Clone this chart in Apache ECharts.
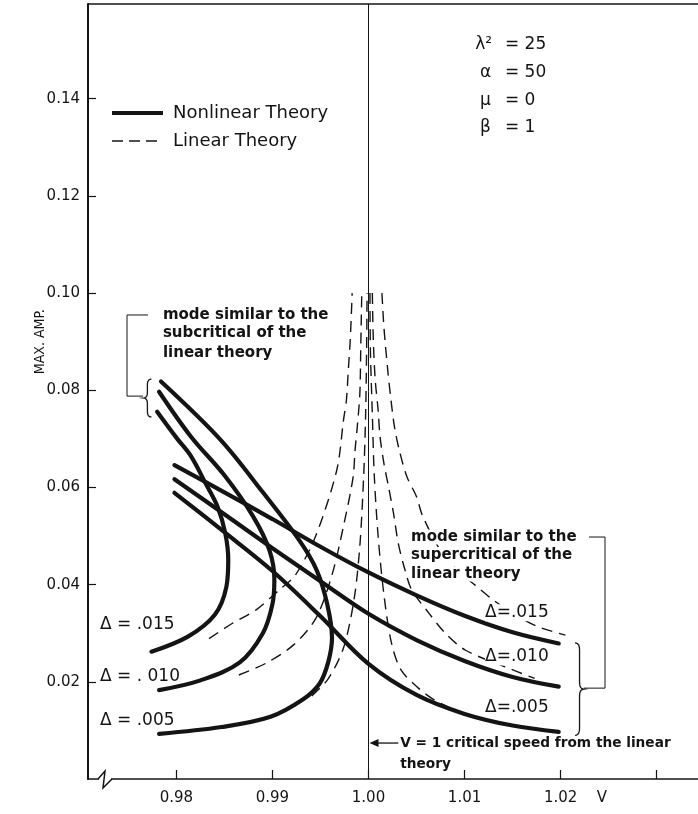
<!DOCTYPE html>
<html><head><meta charset="utf-8">
<script src="https://cdn.jsdelivr.net/npm/echarts@6/dist/echarts.min.js"></script>
<style>html,body{margin:0;padding:0;background:#fff}#c{width:698px;height:814px}</style>
</head><body><div id="c"></div>
<script>
// ---- axes ----
const xTicks = [0.98, 0.99, 1.00, 1.01, 1.02, 1.03];
const xLabelValues = [0.98, 0.99, 1.00, 1.01, 1.02];
const yTicks = [0.02, 0.04, 0.06, 0.08, 0.10, 0.12, 0.14];

// ---- Nonlinear theory: fold branch (subcritical-like mode), [V, max amp] ----
const nlFold015 = [[0.9780,0.0756],[0.9801,0.0700],[0.9815,0.0665],[0.9830,0.0610],[0.9843,0.0560],[0.9851,0.0505],[0.9854,0.0451],[0.9852,0.0395],[0.9840,0.0338],[0.9812,0.0293],[0.9774,0.0262]];
const nlFold010 = [[0.9782,0.0797],[0.9815,0.0705],[0.9850,0.0625],[0.9880,0.0540],[0.9897,0.0470],[0.9902,0.0410],[0.9900,0.0360],[0.9890,0.0300],[0.9866,0.0240],[0.9825,0.0203],[0.9782,0.0183]];
const nlFold005 = [[0.9784,0.0818],[0.9846,0.0698],[0.9890,0.0590],[0.9928,0.0491],[0.9946,0.0430],[0.9957,0.0360],[0.9962,0.0290],[0.9958,0.0240],[0.9949,0.0196],[0.9932,0.0164],[0.9898,0.0128],[0.9847,0.0107],[0.9782,0.0093]];

// ---- Nonlinear theory: supercritical-like branch ----
const nlSup015 = [[0.9798,0.0646],[0.9850,0.0590],[0.9900,0.0535],[0.9950,0.0478],[1.0000,0.0425],[1.0050,0.0378],[1.0100,0.0336],[1.0150,0.0302],[1.0198,0.0279]];
const nlSup010 = [[0.9798,0.0617],[0.9850,0.0545],[0.9900,0.0475],[0.9950,0.0407],[1.0000,0.0340],[1.0050,0.0286],[1.0100,0.0243],[1.0150,0.0210],[1.0198,0.0190]];
const nlSup005 = [[0.9798,0.0589],[0.9850,0.0508],[0.9900,0.0428],[0.9950,0.0335],[1.0000,0.0237],[1.0050,0.0173],[1.0100,0.0134],[1.0150,0.0110],[1.0198,0.0097]];

// ---- Linear theory (dashed) ----
const linLeft015 = [[0.9834,0.0289],[0.9858,0.0320],[0.9883,0.0348],[0.9907,0.0389],[0.9924,0.0420],[0.9945,0.0500],[0.9967,0.0636],[0.9974,0.0739],[0.9977,0.0780],[0.9979,0.0842],[0.9981,0.0904],[0.9983,0.1000]];
const linLeft010 = [[0.9865,0.0214],[0.9893,0.0238],[0.9922,0.0276],[0.9945,0.0330],[0.9962,0.0420],[0.9975,0.0530],[0.9984,0.0622],[0.9986,0.0677],[0.9988,0.0718],[0.9991,0.0794],[0.9992,0.0897],[0.9993,0.1000]];
const linLeft005 = [[0.9941,0.0171],[0.9958,0.0206],[0.9974,0.0270],[0.9985,0.0370],[0.9991,0.0480],[0.9995,0.0625],[0.9997,0.0750],[0.9998,0.0880],[0.99985,0.1000]];
const linRight015 = [[1.0014,0.1000],[1.0016,0.0931],[1.0020,0.0842],[1.0023,0.0787],[1.0027,0.0725],[1.0032,0.0677],[1.0040,0.0622],[1.0050,0.0581],[1.0056,0.0543],[1.0075,0.0470],[1.0095,0.0425],[1.0111,0.0399],[1.0130,0.0368],[1.0155,0.0335],[1.0177,0.0313],[1.0205,0.0296]];
const linRight010 = [[1.0004,0.1000],[1.0005,0.0904],[1.0007,0.0821],[1.0010,0.0760],[1.0012,0.0705],[1.0016,0.0650],[1.0021,0.0600],[1.0026,0.0547],[1.0031,0.0485],[1.0038,0.0430],[1.0045,0.0389],[1.0063,0.0341],[1.0080,0.0300],[1.0101,0.0265],[1.0142,0.0231],[1.0173,0.0207]];
const linRight005 = [[1.00015,0.1000],[1.0002,0.0880],[1.0004,0.0750],[1.0006,0.0625],[1.0010,0.0500],[1.0016,0.0380],[1.0024,0.0279],[1.0034,0.0224],[1.0052,0.0187],[1.0069,0.0162],[1.0083,0.0148]];

const criticalSpeed = 1.00;

const BLACK = '#141414';
const FONT = 'DejaVu Sans';

const chart = echarts.init(document.getElementById('c'), null, {renderer: 'canvas'});

function nl(data) {
  return {name: 'Nonlinear Theory', type: 'line', data: data, smooth: 0.35, symbol: 'none',
    lineStyle: {color: BLACK, width: 4.2, cap: 'round'}, itemStyle: {color: BLACK}, z: 4, silent: true};
}
function lin(data) {
  return {name: 'Linear Theory', type: 'line', data: data, smooth: 0.3, symbol: 'none',
    lineStyle: {color: BLACK, width: 1.4, type: [11, 7]}, itemStyle: {color: BLACK}, z: 3, silent: true};
}

const series = [
  nl(nlFold015), nl(nlFold010), nl(nlFold005),
  nl(nlSup015), nl(nlSup010), nl(nlSup005),
  lin(linLeft015), lin(linLeft010), lin(linLeft005),
  lin(linRight015), lin(linRight010), lin(linRight005)
];
series[0].markLine = {
  silent: true, symbol: 'none', label: {show: false},
  lineStyle: {color: BLACK, width: 1, type: 'solid'},
  data: [{xAxis: criticalSpeed}]
};

chart.setOption({
  animation: false,
  backgroundColor: '#fff',
  grid: {left: 88, right: 0, top: 4, bottom: 35, containLabel: false},
  xAxis: {
    type: 'value', min: 0.9708, max: 1.0343,
    axisLine: {lineStyle: {color: BLACK, width: 1.5}},
    axisTick: {show: true, inside: true, length: 9, customValues: xTicks, lineStyle: {color: BLACK, width: 1.2}},
    axisLabel: {customValues: xLabelValues, formatter: v => v.toFixed(2), margin: 12,
      fontFamily: FONT, fontSize: 15, color: BLACK},
    splitLine: {show: false}
  },
  yAxis: {
    type: 'value', min: 0, max: 0.1595,
    axisLine: {show: true, lineStyle: {color: BLACK, width: 2}},
    axisTick: {show: true, inside: true, length: 8, customValues: yTicks, lineStyle: {color: BLACK, width: 1.2}},
    axisLabel: {customValues: yTicks, formatter: v => v.toFixed(2), margin: 8,
      fontFamily: FONT, fontSize: 15, color: BLACK},
    splitLine: {show: false}
  },
  series: series
});

function P(v, a) { return chart.convertToPixel({xAxisIndex: 0, yAxisIndex: 0}, [v, a]); }
function txt(v, a, s, size, weight, align, style) {
  const p = P(v, a);
  return {type: 'text', x: p[0], y: p[1], z: 10, silent: true,
    style: Object.assign({text: s, fill: BLACK, font: (weight || 'normal') + ' ' + size + 'px ' + FONT,
      textAlign: align || 'left', textVerticalAlign: 'middle'}, style || {})};
}
function seg(pts, w) {
  return {type: 'polyline', z: 10, silent: true, shape: {points: pts.map(q => P(q[0], q[1]))},
    style: {stroke: BLACK, lineWidth: w || 1, fill: null}};
}
function quad(p0, p1, p2, n) {
  const out = [];
  for (let i = 0; i <= n; i++) {
    const t = i / n, u = 1 - t;
    out.push([u * u * p0[0] + 2 * u * t * p1[0] + t * t * p2[0], u * u * p0[1] + 2 * u * t * p1[1] + t * t * p2[1]]);
  }
  return out;
}
// curly brace: flat side at v, dir = +1 tip to the right, -1 tip to the left
function brace(v, aTop, aBot, w, dir) {
  const p1 = P(v, aTop), p2 = P(v, aBot);
  const x0 = p1[0], yT = p1[1], yB = p2[1], ym = (yT + yB) / 2, h = yB - yT;
  const xm = x0 + dir * w / 2, xt = x0 + dir * w, r = Math.min(7, h * 0.15);
  let pts = [];
  pts = pts.concat(quad([x0, yT], [xm, yT], [xm, yT + r], 6));
  pts = pts.concat(quad([xm, ym - r], [xm, ym], [xt, ym], 6));
  pts = pts.concat(quad([xt, ym], [xm, ym], [xm, ym + r], 6));
  pts = pts.concat(quad([xm, yB - r], [xm, yB], [x0, yB], 6));
  return {type: 'polyline', z: 10, silent: true, shape: {points: pts},
    style: {stroke: BLACK, lineWidth: 1.3, fill: null}};
}

const g = [];
// legend (drawn by hand)
{
  const lx = 112, tx = 173;
  g.push({type: 'line', z: 10, silent: true, shape: {x1: lx, y1: 113, x2: lx + 51, y2: 113}, style: {stroke: BLACK, lineWidth: 4}});
  g.push({type: 'text', x: tx, y: 113, z: 10, silent: true, style: {text: 'Nonlinear Theory', fill: BLACK, font: '18px ' + FONT, textVerticalAlign: 'middle'}});
  g.push({type: 'line', z: 10, silent: true, shape: {x1: lx, y1: 141, x2: lx + 51, y2: 141}, style: {stroke: BLACK, lineWidth: 1.4, lineDash: [11, 6]}});
  g.push({type: 'text', x: tx, y: 141, z: 10, silent: true, style: {text: 'Linear Theory', fill: BLACK, font: '18px ' + FONT, textVerticalAlign: 'middle'}});
}
// parameters
[['λ²', '= 25', 1.0111, 0.1511], ['α', '= 50', 1.0116, 0.1453], ['μ', '= 0', 1.0116, 0.1397], ['β', '= 1', 1.0116, 0.1340]]
  .forEach(r => { g.push(txt(r[2], r[3], r[0], 17)); g.push(txt(1.0142, r[3], r[1], 17)); });
// subcritical annotation
['mode similar to the', 'subcritical of the', 'linear theory'].forEach((s, i) =>
  g.push(txt(0.9786, [0.0955, 0.0918, 0.0877][i], s, 15, 'bold')));
g.push(seg([[0.97705, 0.0955], [0.97486, 0.0955], [0.97486, 0.0788], [0.97653, 0.0788]], 1));
g.push(brace(0.97740, 0.0823, 0.0745, 8, -1));
// supercritical annotation
['mode similar to the', 'supercritical of the', 'linear theory'].forEach((s, i) =>
  g.push(txt(1.00443, [0.0498, 0.0461, 0.0422][i], s, 15, 'bold', 'left',
    {backgroundColor: '#fff'})));
g.push(seg([[1.02296, 0.0498], [1.02462, 0.0498], [1.02462, 0.0187], [1.02240, 0.0187]], 1));
g.push(brace(1.0215, 0.0280, 0.0090, 9, 1));
// delta labels
[['Δ = .015', 0.0317], ['Δ = . 010', 0.0210], ['Δ = .005', 0.0121]].forEach(r =>
  g.push(txt(0.97205, r[1], r[0], 17)));
[['Δ=.015', 0.0342], ['Δ=.010', 0.0251], ['Δ=.005', 0.0148]].forEach(r =>
  g.push(txt(1.01213, r[1], r[0], 17, 'normal', 'left', {backgroundColor: '#fff'})));
// critical speed note
{
  const a = P(criticalSpeed, 0.0074), b = P(1.0031, 0.0074);
  g.push({type: 'line', z: 10, silent: true, shape: {x1: a[0] + 8, y1: a[1], x2: b[0], y2: b[1]},
    style: {stroke: BLACK, lineWidth: 1.3}});
  g.push({type: 'polygon', z: 10, silent: true,
    shape: {points: [[a[0] + 1, a[1]], [a[0] + 10, a[1] - 4], [a[0] + 10, a[1] + 4]]}, style: {fill: BLACK}});
  g.push(txt(1.0033, 0.0074, 'V = 1 critical speed from the linear', 13.7, 'bold'));
  g.push(txt(1.0033, 0.0029, 'theory', 13.7, 'bold'));
}
// x-axis unit label
{
  const p = P(1.0243, 0);
  g.push({type: 'text', x: p[0], y: p[1] + 12, z: 10, silent: true,
    style: {text: 'V', fill: BLACK, font: '15px ' + FONT, textAlign: 'center', textVerticalAlign: 'top'}});
}
// y axis title
{
  const p = P(0.9708, 0.0900);
  g.push({type: 'text', x: 40, y: p[1], rotation: Math.PI / 2, z: 10, silent: true,
    style: {text: 'MAX. AMP.', fill: BLACK, font: '14px "Liberation Sans Narrow", "DejaVu Sans Condensed", sans-serif',
      textAlign: 'center', textVerticalAlign: 'middle'}});
}
// top frame line
{
  const p = P(0.9708, 0.1595), q = P(1.0343, 0.1595);
  g.push({type: 'line', z: 10, silent: true, shape: {x1: p[0], y1: p[1], x2: q[0], y2: q[1]},
    style: {stroke: BLACK, lineWidth: 1.5}});
}
// axis break symbol
{
  const o = P(0.9708, 0);
  g.push({type: 'rect', z: 11, silent: true, shape: {x: o[0] + 11, y: o[1] - 3, width: 12, height: 6}, style: {fill: '#fff'}});
  g.push({type: 'polyline', z: 12, silent: true,
    shape: {points: [[o[0] + 10, o[1]], [o[0] + 17, o[1] - 8], [o[0] + 15, o[1] + 9], [o[0] + 24, o[1]]]},
    style: {stroke: BLACK, lineWidth: 1.5, fill: null}});
}
chart.setOption({graphic: g});
</script>
</body></html>
